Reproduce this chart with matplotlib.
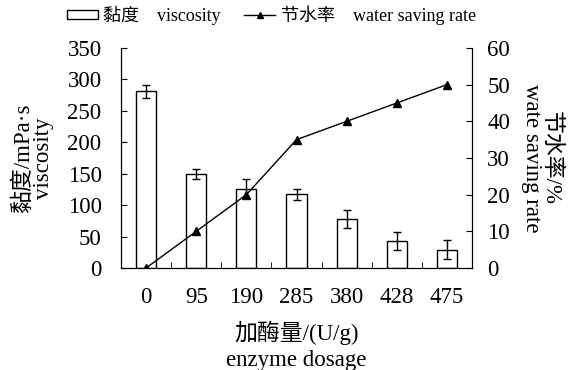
import matplotlib.pyplot as plt
import numpy as np
from matplotlib.lines import Line2D
from matplotlib.patches import Patch

plt.rcParams['font.family'] = ['Liberation Serif', 'Noto Sans CJK SC']
plt.rcParams['font.size'] = 16.5

dosage = ['0', '95', '190', '285', '380', '428', '475']
viscosity = [281, 150, 126, 117, 78, 43, 29]
viscosity_err = [10, 8, 15, 9, 15, 14, 15]
saving_rate = [0, 10, 20, 35, 40, 45, 50]

fig = plt.figure(figsize=(5.69, 3.7), dpi=100)
ax = fig.add_axes([0.2127, 0.2757, 0.6168, 0.5946])
x = np.arange(len(dosage))

ax.bar(x, viscosity, width=0.4, color='white', edgecolor='black', linewidth=1,
       yerr=viscosity_err, error_kw=dict(ecolor='black', elinewidth=1, capsize=3, capthick=1))
ax.set_ylim(0, 350)
ax.set_yticks(range(0, 351, 50))
ax.set_xlim(-0.5, len(dosage) - 0.5)
ax.set_xticks(x)
ax.set_xticklabels(dosage)
ax.set_xticks(np.arange(0.5, len(dosage) - 1, 1), minor=True)
ax.tick_params(axis='x', which='major', length=0, pad=14)
ax.tick_params(axis='x', which='minor', direction='in', length=4)
ax.tick_params(axis='y', direction='in', length=4, pad=14)
ax.spines['top'].set_visible(False)
ax.set_ylabel('黏度/mPa·s\nviscosity', linespacing=0.9, labelpad=10)
ax.set_xlabel('加酶量/(U/g)\nenzyme dosage', linespacing=1.3, labelpad=9)

ax2 = ax.twinx()
ax2.plot(x, saving_rate, color='black', marker='^', markersize=6, linewidth=1)
ax2.set_ylim(0, 60)
ax2.set_yticks(range(0, 61, 10))
ax2.tick_params(axis='y', direction='in', length=4, pad=11)
ax2.spines['top'].set_visible(False)
ax2.set_ylabel('节水率/%\nwate saving rate', rotation=270, linespacing=0.9, labelpad=37)

handles = [Patch(facecolor='white', edgecolor='black', linewidth=1),
           Line2D([], [], color='black', marker='^', markersize=5, linewidth=1)]
fig.legend(handles, ['黏度　viscosity', '节水率　water saving rate'], loc='upper center',
           bbox_to_anchor=(0.477, 1.03), ncol=2, frameon=False, fontsize=13,
           handlelength=1.7, handleheight=0.4, columnspacing=1.3, handletextpad=0.3)

fig.savefig('out.png', dpi=100)
